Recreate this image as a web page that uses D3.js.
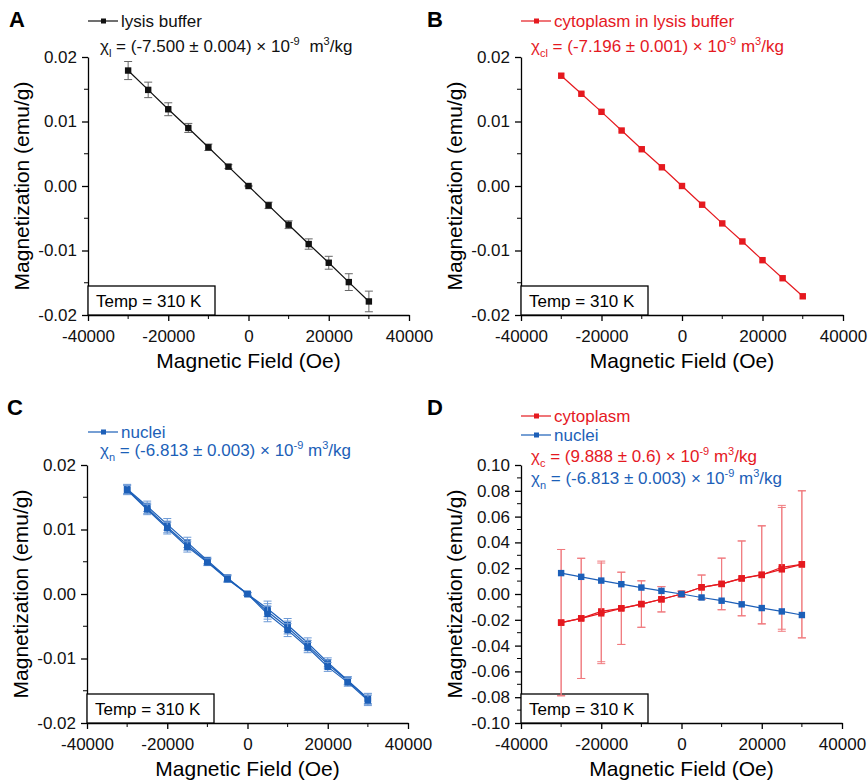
<!DOCTYPE html>
<meta charset="utf-8">
<style>
body { margin: 0; background: #fff; }
svg text { font-family: "Liberation Sans", Arial, sans-serif; }
.tick text { font-size: 17px; }
.axisTitle { font-size: 21px; }
.panelLetter { font-size: 22px; font-weight: bold; }
.legendText { font-size: 17px; }
.tempLabel { font-size: 17px; }
</style>
<svg width="868" height="780"></svg>
<script src="https://cdn.jsdelivr.net/npm/d3@7"></script>
<script>

// magnetic field steps (Oe)
const fieldOe = [-30000, -25000, -20000, -15000, -10000, -5000, 0, 5000, 10000, 15000, 20000, 25000, 30000];

// A: lysis buffer
const lysisM   = [0.0179, 0.0149, 0.0119, 0.0090, 0.0060, 0.0030, 0, -0.0030, -0.0060, -0.0090, -0.0119, -0.0149, -0.0179];
const lysisErr = [0.0014, 0.0012, 0.0010, 0.0007, 0.0005, 0.0003, 0.0001, 0.0005, 0.0006, 0.0008, 0.0010, 0.0013, 0.0016];

// B: cytoplasm in lysis buffer
const cytoLysisM   = [0.0171, 0.0143, 0.0115, 0.0086, 0.0057, 0.0029, 0, -0.0029, -0.0058, -0.0086, -0.0115, -0.0143, -0.0171];
const cytoLysisErr = [0.0003, 0.0002, 0.0002, 0.0002, 0.0002, 0.0002, 0.0001, 0.0003, 0.0002, 0.0002, 0.0002, 0.0002, 0.0003];

// C: nuclei replicates
const nucleiM1 = [0.0163, 0.0136, 0.0108, 0.0080, 0.0052, 0.0025, 0, -0.0023, -0.0048, -0.0076, -0.0106, -0.0134, -0.0162];
const nucleiM2 = [0.0162, 0.0133, 0.0104, 0.0076, 0.0050, 0.0024, 0, -0.0027, -0.0052, -0.0080, -0.0109, -0.0135, -0.0163];
const nucleiM3 = [0.0161, 0.0131, 0.0102, 0.0073, 0.0049, 0.0023, 0, -0.0031, -0.0056, -0.0083, -0.0113, -0.0137, -0.0165];
const nucleiErr = [0.0007, 0.0008, 0.0009, 0.0008, 0.0005, 0.0005, 0.0002, 0.0012, 0.0010, 0.0008, 0.0007, 0.0006, 0.0008];

// D: cytoplasm replicates
const cytoM1 = [-0.0222, -0.0189, -0.0135, -0.0111, -0.0078, -0.0041, 0, 0.0052, 0.0078, 0.0121, 0.0147, 0.0207, 0.0230];
const cytoM2 = [-0.0222, -0.0189, -0.0150, -0.0111, -0.0078, -0.0041, 0, 0.0052, 0.0078, 0.0121, 0.0150, 0.0191, 0.0230];
const cytoErr = [0.0567, 0.0466, 0.0390, 0.0280, 0.0180, 0.0098, 0.0022, 0.0095, 0.0200, 0.0290, 0.0380, 0.0480, 0.0570];

const xTicks = [-40000, -20000, 0, 20000, 40000];
const yTicksSmall = [-0.02, -0.01, 0.00, 0.01, 0.02];
const yTicksD = [-0.10, -0.08, -0.06, -0.04, -0.02, 0.00, 0.02, 0.04, 0.06, 0.08, 0.10];

const RED = "#e5191f", RED_ERR = "#f07a7e",
      BLUE = "#1c5fb8", BLUE_ERR = "#6f9bd6",
      BLACK = "#111", GRAY = "#666";

const svg = d3.select("svg");

// builds one panel (axes, temp box, letter); returns scales + group
function makePanel(p) {
  const x = d3.scaleLinear().domain([-40000, 40000]).range([p.left, p.right]);
  const y = d3.scaleLinear().domain(p.yDomain).range([p.bottom, p.top]);
  const g = svg.append("g");

  // minor ticks
  const xMinor = d3.range(-30000, 40000, 20000);
  g.selectAll(".xminor").data(xMinor).enter().append("line")
      .attr("x1", d => x(d)).attr("x2", d => x(d))
      .attr("y1", p.bottom).attr("y2", p.bottom + 4)
      .attr("stroke", "#000").attr("stroke-width", 1);
  g.selectAll(".yminor").data(p.yMinor).enter().append("line")
      .attr("y1", d => y(d)).attr("y2", d => y(d))
      .attr("x1", p.left).attr("x2", p.left - 4)
      .attr("stroke", "#000").attr("stroke-width", 1);

  const xAxis = g.append("g")
      .attr("transform", `translate(0,${p.bottom})`)
      .call(d3.axisBottom(x).tickValues(xTicks).tickSize(6).tickSizeOuter(0).tickFormat(d3.format("d")));
  xAxis.selectAll("text").attr("dy", "1.05em").text(d => d < 0 ? "-" + Math.abs(d) : d);

  const yAxis = g.append("g")
      .attr("transform", `translate(${p.left},0)`)
      .call(d3.axisLeft(y).tickValues(p.yTicks).tickSize(6).tickSizeOuter(0).tickFormat(d3.format(".2f")));
  yAxis.selectAll("text").attr("x", -11).text(d => (d < 0 ? "-" : "") + d3.format(".2f")(Math.abs(d)));

  g.selectAll(".domain, .tick line").attr("stroke", "#000").attr("stroke-width", 1.3);
  g.selectAll(".tick text").attr("fill", "#111");

  g.append("text").attr("class", "axisTitle")
      .attr("x", (p.left + p.right) / 2).attr("y", p.bottom + 53)
      .attr("text-anchor", "middle").text("Magnetic Field (Oe)");
  g.append("text").attr("class", "axisTitle")
      .attr("transform", `translate(${p.left - 59},${(p.top + p.bottom) / 2}) rotate(-90)`)
      .attr("text-anchor", "middle").text("Magnetization (emu/g)");

  // temperature box
  g.append("rect")
      .attr("x", p.left).attr("y", p.bottom - 29)
      .attr("width", 127).attr("height", 29)
      .attr("fill", "#fff").attr("stroke", "#000").attr("stroke-width", 1.3);
  g.append("text").attr("class", "tempLabel")
      .attr("x", p.left + 8).attr("y", p.bottom - 8).text("Temp = 310 K");

  g.append("text").attr("class", "panelLetter")
      .attr("x", p.letterX).attr("y", p.letterY).text(p.letter);

  return {x, y, g};
}

function drawSeries(panel, values, errs, color, errColor, capHalf) {
  const {x, y, g} = panel;
  const pts = fieldOe.map((f, i) => ({f, m: values[i], e: errs ? errs[i] : 0}));
  if (errs) {
    const eb = g.append("g").attr("stroke", errColor).attr("stroke-width", 1);
    pts.forEach(d => {
      eb.append("line").attr("x1", x(d.f)).attr("x2", x(d.f)).attr("y1", y(d.m + d.e)).attr("y2", y(d.m - d.e));
      eb.append("line").attr("x1", x(d.f) - capHalf).attr("x2", x(d.f) + capHalf).attr("y1", y(d.m + d.e)).attr("y2", y(d.m + d.e));
      eb.append("line").attr("x1", x(d.f) - capHalf).attr("x2", x(d.f) + capHalf).attr("y1", y(d.m - d.e)).attr("y2", y(d.m - d.e));
    });
  }
  g.append("path").datum(pts)
      .attr("fill", "none").attr("stroke", color).attr("stroke-width", 1.2)
      .attr("d", d3.line().x(d => x(d.f)).y(d => y(d.m)));
  g.selectAll(null).data(pts).enter().append("rect")
      .attr("x", d => x(d.f) - 3.2).attr("y", d => y(d.m) - 3.2)
      .attr("width", 6.4).attr("height", 6.4).attr("fill", color);
}

function legendEntry(x0, yLine, label, color) {
  svg.append("line").attr("x1", x0).attr("x2", x0 + 30).attr("y1", yLine).attr("y2", yLine)
      .attr("stroke", color).attr("stroke-width", 1.2);
  svg.append("rect").attr("x", x0 + 13).attr("y", yLine - 2.5).attr("width", 5).attr("height", 5).attr("fill", color);
  svg.append("text").attr("class", "legendText").attr("x", x0 + 33).attr("y", yLine + 6)
      .attr("fill", color).text(label);
}

function chiLine(x0, baseline, sub, value, color, gap) {
  const t = svg.append("text").attr("class", "legendText").attr("x", x0).attr("y", baseline).attr("fill", color);
  t.append("tspan").text("χ");
  t.append("tspan").attr("font-size", 11).attr("dy", 5).text(sub);
  t.append("tspan").attr("dy", -5).text(` = ${value} × 10`);
  t.append("tspan").attr("font-size", 11).attr("dy", -7).text("-9");
  t.append("tspan").attr("dy", 7).attr("dx", gap).text(" m");
  t.append("tspan").attr("font-size", 11).attr("dy", -7).text("3");
  t.append("tspan").attr("dy", 7).text("/kg");
}

const minorSmall = [-0.015, -0.005, 0.005, 0.015];
const minorD = [-0.09, -0.07, -0.05, -0.03, -0.01, 0.01, 0.03, 0.05, 0.07, 0.09];

// Panel A
const pA = makePanel({letter: "A", letterX: 9, letterY: 27, left: 88, right: 409, top: 57, bottom: 315,
  yDomain: [-0.02, 0.02], yTicks: yTicksSmall, yMinor: minorSmall});
drawSeries(pA, lysisM, lysisErr, BLACK, GRAY, 4);
legendEntry(88, 21, "lysis buffer", BLACK);
chiLine(100, 52, "l", "(-7.500 ± 0.004)", BLACK, 5);

// Panel B
const pB = makePanel({letter: "B", letterX: 427, letterY: 27, left: 521, right: 843, top: 57, bottom: 315,
  yDomain: [-0.02, 0.02], yTicks: yTicksSmall, yMinor: minorSmall});
drawSeries(pB, cytoLysisM, cytoLysisErr, RED, RED_ERR, 3);
legendEntry(521, 21, " cytoplasm in lysis buffer", RED);
chiLine(531, 52, "cl", "(-7.196 ± 0.001)", RED, 0);

// Panel C
const pC = makePanel({letter: "C", letterX: 7, letterY: 415, left: 87, right: 408, top: 465, bottom: 723,
  yDomain: [-0.02, 0.02], yTicks: yTicksSmall, yMinor: minorSmall});
drawSeries(pC, nucleiM1, nucleiErr, BLUE, BLUE_ERR, 4);
drawSeries(pC, nucleiM2, nucleiErr, BLUE, BLUE_ERR, 4);
drawSeries(pC, nucleiM3, nucleiErr, BLUE, BLUE_ERR, 4);
legendEntry(88, 432, "nuclei", BLUE);
chiLine(100, 456, "n", "(-6.813 ± 0.003)", BLUE, 0);

// Panel D
const pD = makePanel({letter: "D", letterX: 427, letterY: 415, left: 521, right: 842, top: 465, bottom: 723,
  yDomain: [-0.10, 0.10], yTicks: yTicksD, yMinor: minorD});
drawSeries(pD, cytoM1, cytoErr, RED, RED_ERR, 4);
drawSeries(pD, cytoM2, cytoErr, RED, RED_ERR, 4);
drawSeries(pD, nucleiM2, nucleiErr, BLUE, BLUE_ERR, 3);
legendEntry(521, 416, "cytoplasm", RED);
legendEntry(521, 435, "nuclei", BLUE);
chiLine(531, 462, "c", "(9.888 ± 0.6)", RED, 0);
chiLine(531, 484, "n", "(-6.813 ± 0.003)", BLUE, 0);

</script>
